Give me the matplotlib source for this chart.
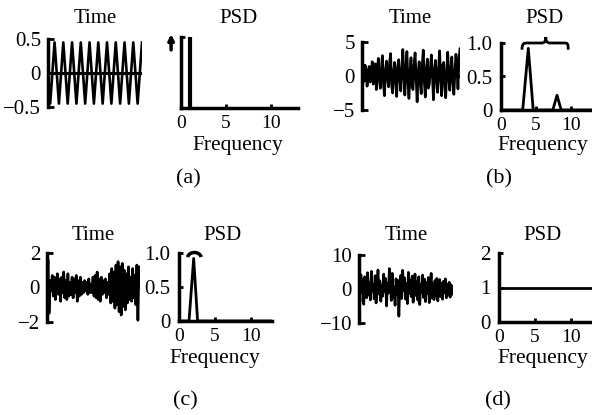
import numpy as np
import matplotlib

matplotlib.use('agg')
from matplotlib import pyplot as plt
from matplotlib.path import Path
from matplotlib.patches import PathPatch

plt.rcParams['font.family'] = ['Liberation Serif', 'DejaVu Serif']

# time signals (sample values)
sig_a = [0.0, -0.45, 0.0, 0.45, 0.0, -0.45, 0.0, 0.45, 0.0, -0.45, 0.0, 0.45,
         0.0, -0.45, 0.0, 0.45, 0.0, -0.45, 0.0, 0.45, 0.0, -0.45, 0.0, 0.45,
         0.0, -0.45, 0.0, 0.45, 0.0, -0.45, 0.0, 0.45, 0.0, -0.45, 0.0, 0.45,
         0.0, -0.45, 0.0, 0.45, 0.0, -0.45, 0.0, 0.45]
sig_b = [0.3, 1.2, -0.8, 1.6, 0.9, -1.5, 0.6, 1.4, -0.9, 0.4, 2.1, -1.2, -0.3,
         1.8, -2.0, 0.5, 2.6, -0.6, -1.8, 1.1, 3.0, -1.1, -2.9, 0.8, 2.2, -0.4,
         -1.6, 1.9, 3.3, -1.3, -2.5, 0.7, 2.0, -0.9, -3.0, 1.4, 2.4, -0.5, -2.2,
         0.9, 3.9, 0.2, -2.8, 1.2, 3.6, -0.8, -3.3, 0.6, 2.7, -1.5, -2.0, 1.7,
         3.4, -0.2, -3.8, 0.4, 2.1, -1.0, -2.6, 1.5, 3.8, -0.7, -3.1, 0.9, 2.5,
         -1.8, -1.2, 1.3, 3.1, 0.1, -3.5, 0.6, 2.3, -0.6, -2.4, 1.0, 3.7, -0.3,
         -2.9, 1.6, 2.0, -1.4, -3.2, 0.8, 3.5, -0.4, -2.1, 1.1, 2.8, -0.9, -2.7,
         0.5, 3.2, 1.4, -1.9, 2.6, 4.0]
sig_c = [0.1, 1.6, -1.5, 0.4, -0.2, 0.7, -0.5, 0.6, -0.7, 0.3, 0.8, -0.4, 0.5,
         -0.8, 0.6, -0.3, 0.9, -0.6, 0.4, -0.7, 0.8, -0.5, 0.3, -0.4, 0.6, -0.6,
         0.5, -0.3, 0.7, -0.8, 0.4, -0.5, 0.6, -0.4, 0.3, -0.3, 0.4, -0.2, 0.3,
         -0.4, 0.5, -0.3, 0.2, -0.3, 0.6, -0.5, 0.7, -0.6, 0.9, -0.7, 0.5, -0.8,
         0.6, -0.4, 0.4, -0.3, 0.5, -0.6, 0.3, -0.4, 0.8, -0.9, 1.1, -0.8, 0.9,
         -1.2, 1.3, -1.0, 1.5, -1.4, 1.2, -1.6, 1.4, -1.1, 1.0, -1.3, 0.8, -0.9,
         1.2, -0.7, 0.6, -0.8, 1.1, -0.6, 0.7, -1.0, 1.3, -1.9, 1.2, 0.3]
sig_d = [1.5, -3.8, 4.2, -1.0, 2.8, -4.5, 3.6, 0.5, -2.6, 4.8, -1.8, 2.0, -3.2,
         5.2, -0.6, 1.4, -2.9, 3.9, -4.1, 0.9, 5.6, -1.5, 2.4, -3.6, 1.2, -2.1,
         4.4, -0.8, 3.1, -5.0, 1.8, -1.2, 6.0, 2.2, -3.4, 4.6, -2.4, 0.6, -4.8,
         3.0, -1.6, 2.6, -8.0, 1.1, 4.0, -2.8, 5.5, -0.4, 3.3, -3.0, 1.6, -4.3,
         4.9, -1.3, 2.7, -2.2, 3.8, -3.9, 0.8, 4.4, -1.9, 2.1, -3.3, 3.6, -4.6,
         1.3, -0.9, 4.1, -2.5, 2.9, -3.7, 1.9, -1.4, 3.4, -4.0, 0.7, 4.6, -2.7,
         1.5, -3.1, 2.5, -2.0, 3.1, -3.5, 1.0, 2.8, -2.3, 1.7, -3.0, 2.3, -1.1,
         3.0, -2.6, 1.4, -1.8, 2.0, -2.4, 1.2, 0.4, -1.5]

# PSDs
freq_a = [1.0]
psd_a = [1.0]
freq_b = [0, 3.1, 3.9, 4.6, 7.4, 8.0, 8.6, 13]
psd_b = [0, 0, 0.92, 0, 0, 0.22, 0, 0]
freq_c = [0, 1.4, 2.05, 2.6, 13]
psd_c = [0, 0, 0.92, 0, 0]
freq_d = [0, 13]
psd_d = [1, 1]

time_lims = [0.5, 5, 2, 10]
time_labels = [['\u22120.5', '0', '0.5'], ['\u22125', '0', '5'],
               ['\u22122', '0', '2'], ['\u221210', '0', '10']]
freq_ticks = [0, 5, 10]
psd_yticks_bc = [0, 0.5, 1.0]
psd_ylabels_bc = ['0', '0.5', '1.0']
psd_yticks_d = [0, 1, 2]
panel_labels = ['(a)', '(b)', '(c)', '(d)']

W, H = 592, 415
fig = plt.figure(figsize=(W / 100, H / 100), dpi=100)


def rect(x0, y0, x1, y1):
    return [x0 / W, 1 - y1 / H, (x1 - x0) / W, (y1 - y0) / H]


def ftext(x, y, s, size=15):
    fig.text(x / W, 1 - y / H, s, ha='center', va='baseline', fontsize=size)


def time_axes(r, sig, lim, labels):
    ax = fig.add_axes(r)
    ax.plot(np.arange(len(sig)), sig, color='k', lw=1.9)
    ax.axhline(0, color='k', lw=2.2)
    ax.set_xlim(0, len(sig) - 1)
    ax.set_ylim(-lim, lim)
    for s in ['top', 'right', 'bottom']:
        ax.spines[s].set_visible(False)
    ax.spines['left'].set_linewidth(2.5)
    ax.set_xticks([])
    ax.set_yticks([-lim, 0, lim])
    ax.set_yticklabels(labels)
    ax.tick_params(axis='y', direction='in', length=4, width=2, pad=5, labelsize=15)
    ax.patch.set_alpha(0)
    return ax


def psd_axes(r, ylim, yticks, ylabels):
    ax = fig.add_axes(r)
    ax.set_xlim(0, 13)
    ax.set_ylim(0, ylim)
    for s in ['top', 'right']:
        ax.spines[s].set_visible(False)
    ax.spines['left'].set_linewidth(2.5)
    ax.spines['bottom'].set_linewidth(2.5)
    ax.set_xticks(freq_ticks)
    ax.set_yticks(yticks)
    ax.set_yticklabels(ylabels)
    ax.tick_params(direction='in', length=3, width=2)
    ax.tick_params(axis='x', pad=5, labelsize=14)
    ax.tick_params(axis='y', pad=6, labelsize=15)
    ax.patch.set_alpha(0)
    return ax


def brace(ax, pts, codes, lw=2):
    ax.add_patch(PathPatch(Path(pts, codes), fc='none', ec='k', lw=lw, clip_on=False))


C4 = Path.CURVE4

# (a)
ax = time_axes(rect(48, 39, 142, 107), sig_a, time_lims[0], time_labels[0])
ax = psd_axes(rect(181, 37, 298, 108), 1.0, [0, 1], ['', ''])
ax.vlines(freq_a, 0, psd_a, color='k', lw=3)
ax.annotate('', xy=(-1.1, 1.08), xytext=(-1.1, 0.78), annotation_clip=False,
            arrowprops=dict(arrowstyle='-|>', color='k', lw=2.5, mutation_scale=8))

# (b)
time_axes(rect(362, 42, 460, 110), sig_b, time_lims[1], time_labels[1])
ax = psd_axes(rect(501, 43, 592, 110), 1.0, psd_yticks_bc, psd_ylabels_bc)
ax.plot(freq_b, psd_b, color='k', lw=2)
brace(ax, [(3.0, 0.9), (3.0, 1.0), (3.3, 1.0), (3.8, 1.0), (5.8, 1.0),
           (6.3, 1.0), (6.4, 1.04), (6.4, 1.09), (6.4, 1.04), (6.5, 1.0),
           (7.0, 1.0), (9.0, 1.0), (9.5, 1.0), (9.6, 1.0), (9.6, 0.9)],
      [Path.MOVETO, C4, C4, C4, Path.LINETO, C4, C4, C4, C4, C4, C4,
       Path.LINETO, C4, C4, C4])

# (c)
time_axes(rect(47, 253, 140, 322), sig_c, time_lims[2], time_labels[2])
ax = psd_axes(rect(179, 253, 272, 321), 1.0, psd_yticks_bc, psd_ylabels_bc)
ax.plot(freq_c, psd_c, color='k', lw=2)
brace(ax, [(1.2, 0.94), (1.4, 1.03), (2.9, 1.03), (3.1, 0.94)],
      [Path.MOVETO, C4, C4, C4], lw=2.5)

# (d)
time_axes(rect(359, 255, 453, 323), sig_d, time_lims[3], time_labels[3])
ax = psd_axes(rect(499, 253, 592, 322), 2, psd_yticks_d, ['0', '1', '2'])
ax.plot(freq_d, psd_d, color='k', lw=2)

# titles and labels
for xt, xp, xf, xl, yt, yf, yl, lab in [
        (95, 239, 238, 188, 23, 150, 183, panel_labels[0]),
        (410, 545, 543, 499, 23, 150, 183, panel_labels[1]),
        (93, 222, 215, 185, 240, 363, 405, panel_labels[2]),
        (406, 543, 543, 498, 240, 363, 405, panel_labels[3])]:
    ftext(xt, yt, 'Time')
    ftext(xp, yt, 'PSD')
    ftext(xf, yf, 'Frequency', size=15.5)
    ftext(xl, yl, lab, size=16)

plt.savefig('out.png', dpi=100)
